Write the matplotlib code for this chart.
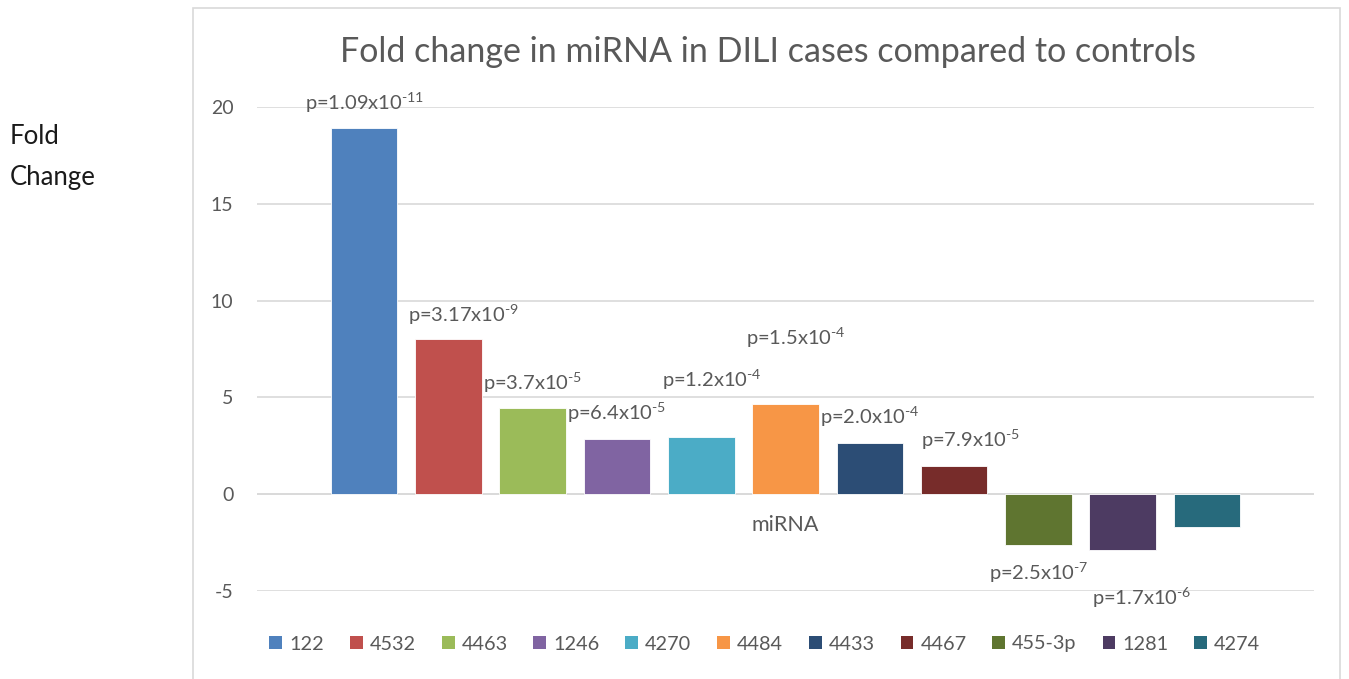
import matplotlib
matplotlib.use("Agg")
import matplotlib.pyplot as plt
from matplotlib.patches import Patch, Rectangle

plt.rcParams['font.family'] = ['Lato', 'DejaVu Sans']
plt.rcParams['mathtext.fontset'] = 'custom'
plt.rcParams['mathtext.rm'] = 'Lato'
plt.rcParams['mathtext.it'] = 'Lato:italic'
plt.rcParams['mathtext.bf'] = 'Lato:bold'
plt.rcParams['axes.unicode_minus'] = False

mirnas = ['122', '4532', '4463', '1246', '4270', '4484', '4433', '4467', '455-3p', '1281', '4274']
fold_change = [18.9, 8.0, 4.45, 2.85, 2.95, 4.65, 2.65, 1.45, -2.6, -2.9, -1.7]
p_mant = ['1.09', '3.17', '3.7', '6.4', '1.2', '1.5', '2.0', '7.9', '2.5', '1.7', None]
p_exp = ['11', '9', '5', '5', '4', '4', '4', '5', '7', '6', None]
colors = ['#4F81BD', '#C0504D', '#9BBB59', '#8064A2', '#4BACC6', '#F79646',
          '#2C4D75', '#772C2A', '#5F7530', '#4D3B62', '#276A7C']

# where the p-value labels sit (x offset from bar centre, y in data units)
lab_dx = [0.0, 0.18, 0.0, 0.0, 0.13, 0.12, 0.0, 0.19, 0.0, 0.23]
lab_y = [20.2, 9.25, 5.74, 4.19, 5.89, 8.06, 3.98, 2.79, -4.08, -5.37]

grey = '#595959'
fig = plt.figure(figsize=(13.49, 6.79), dpi=100)
ax = fig.add_axes([0.1905, 0.1296, 0.7836, 0.7128])

x = list(range(len(mirnas)))
ax.bar(x, fold_change, width=0.79, color=colors, edgecolor='white', linewidth=0.6, zorder=3)

for i in range(len(lab_y)):
    s = f'p={p_mant[i]}x10$^{{\u2010{p_exp[i]}}}$'
    ax.text(i + lab_dx[i], lab_y[i], s, ha='center', va='center', fontsize=14.5, color=grey)

ax.set_xlim(-1.27, 11.27)
ax.set_ylim(-5, 20)
ax.set_yticks([-5, 0, 5, 10, 15, 20])
ax.set_xticks([])
ax.grid(axis='y', color='#d9d9d9', linewidth=1.2, zorder=0)
ax.axhline(0, color='#d9d9d9', linewidth=1.2, zorder=1)
for sp in ax.spines.values():
    sp.set_visible(False)
ax.tick_params(axis='y', length=0, labelsize=14, labelcolor=grey, pad=17)

ax.annotate('miRNA', xy=(5, 0), xytext=(0, -31), textcoords='offset pixels',
            ha='center', va='center', fontsize=15.5, color=grey)

fig.text(0.569, 0.923, 'Fold change in miRNA in DILI cases compared to controls',
         ha='center', va='center', fontsize=24.5, color=grey)
fig.text(10 / 1349, 1 - 137 / 679, 'Fold', ha='left', va='center', fontsize=18.5, color='#1a1a1a')
fig.text(10 / 1349, 1 - 178 / 679, 'Change', ha='left', va='center', fontsize=18.5, color='#1a1a1a')

handles = [Patch(facecolor=c, edgecolor='none') for c in colors]
fig.legend(handles, mirnas, loc='center', bbox_to_anchor=(0.567, 1 - 644 / 679), ncol=11,
           frameon=False, fontsize=14.3, labelcolor=grey, handlelength=0.65, handleheight=0.65,
           handletextpad=0.35, columnspacing=1.3)

fig.patches.append(Rectangle((193 / 1349, -0.02), (1340 - 193) / 1349, 1 - 8 / 679 + 0.02,
                             transform=fig.transFigure, fill=False, edgecolor='#d9d9d9',
                             linewidth=1.2, zorder=0))

fig.savefig('out.png', dpi=100)
